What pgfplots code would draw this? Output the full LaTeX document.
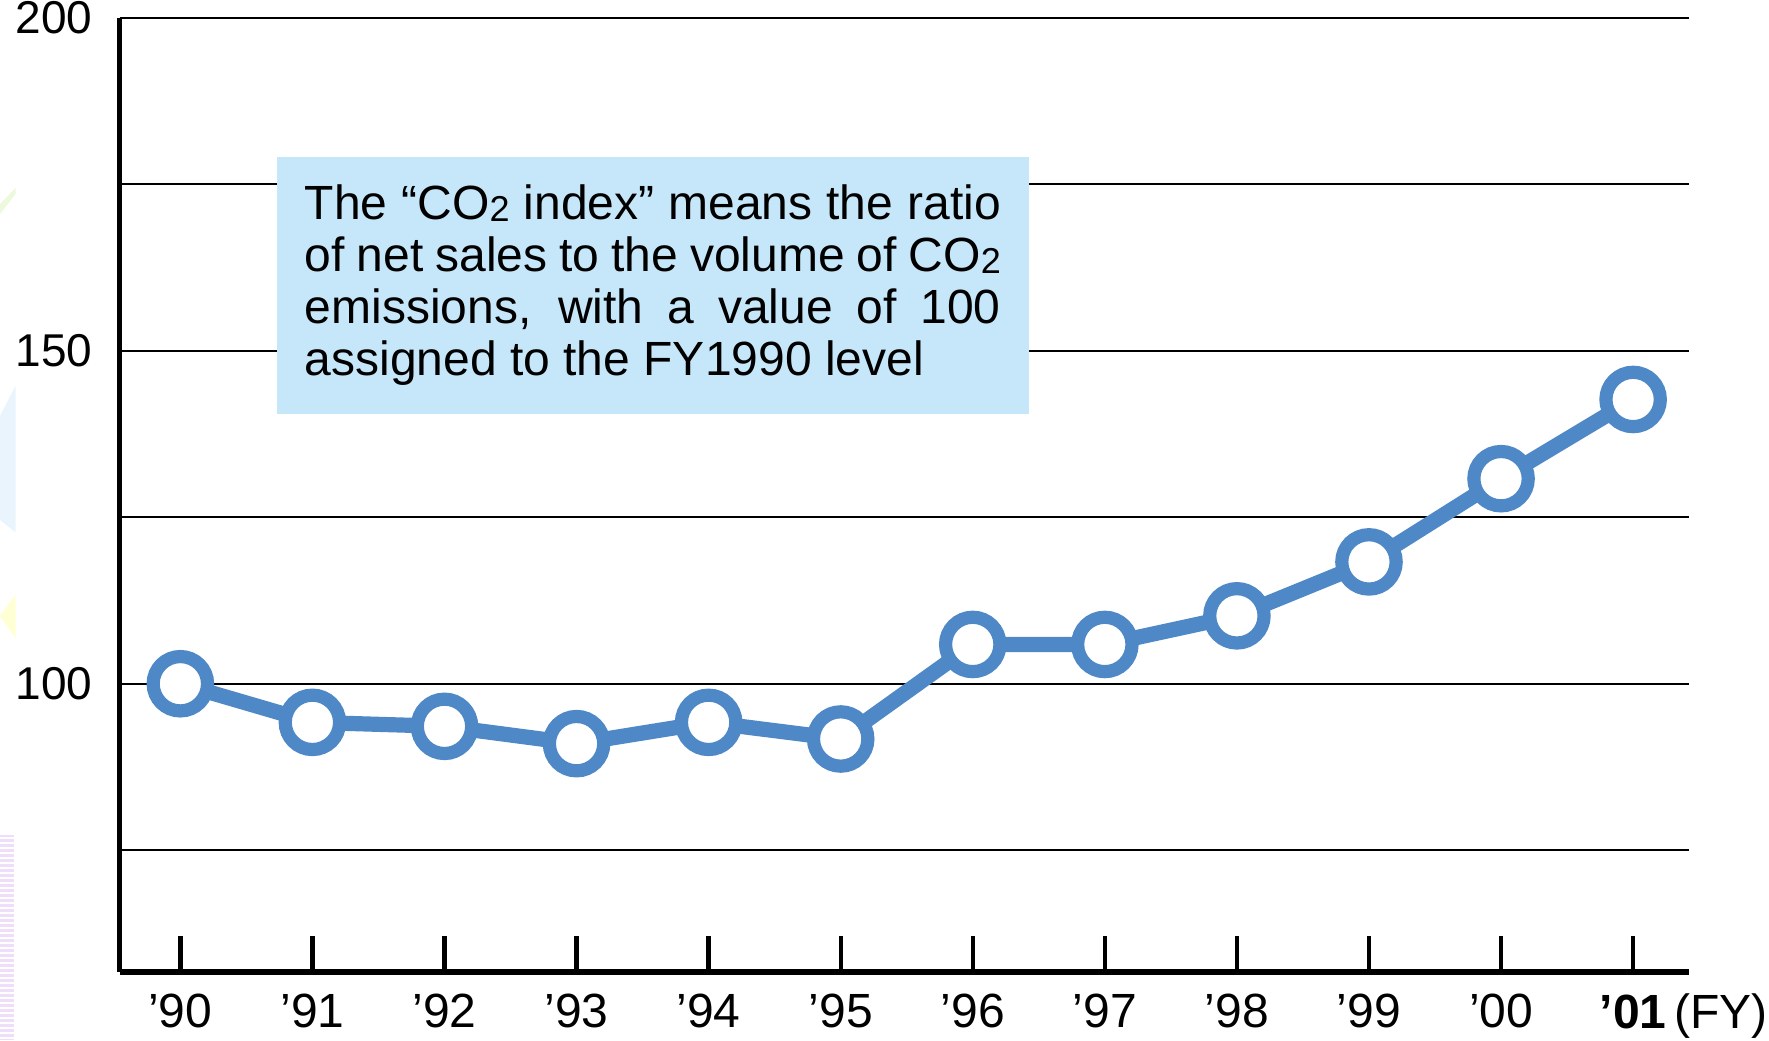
\documentclass[border=0pt]{standalone}
\usepackage{pgfplots}
\pgfplotsset{compat=1.18}
\usepackage{fontspec}
\setmainfont{Liberation Sans}

\definecolor{lineblue}{RGB}{79,136,198}
\definecolor{boxblue}{RGB}{198,231,249}
\definecolor{lav}{RGB}{238,222,250}
\definecolor{paleblue}{RGB}{234,244,253}
\definecolor{paleyellow}{RGB}{255,255,212}
\definecolor{palegreen}{RGB}{236,249,220}

\begin{document}
\begin{tikzpicture}
% faint page decorations at the left edge
\fill[palegreen] (-29.9pt,189.5pt) -- (-26pt,194.5pt) -- (-26pt,196pt) -- (-29.9pt,192pt) -- cycle;
\fill[paleblue] (-29.9pt,139pt) -- (-26pt,146.6pt) -- (-26pt,109.9pt) -- (-29.9pt,113pt) -- cycle;
\fill[paleyellow] (-29.9pt,89pt) -- (-26pt,94.4pt) -- (-26pt,83.4pt) -- cycle;
\fill[lav] (-29.9pt,-17pt) rectangle (-26.5pt,34.3pt);
\foreach \k in {0,...,40} \draw[white, line width=0.3pt] (-29.9pt,-16.5pt+\k*1.25pt) -- ++(3.4pt,0);

\begin{axis}[
    at={(0,0)}, anchor=south west,
    scale only axis,
    width=392.25pt, height=238.5pt,
    xmin=-0.46, xmax=11.42,
    ymin=56.7, ymax=200,
    axis x line=bottom, axis y line=left,
    x axis line style={-, line width=1.6pt},
    y axis line style={-, line width=1.2pt},
    xtick={0,...,11},
    xticklabels={’90,’91,’92,’93,’94,’95,’96,’97,’98,’99,’00,{\textbf{’01}\rlap{\,(FY)}}},
    ytick={75,100,125,150,175,200},
    yticklabels={,100,,150,,200},
    ymajorgrids,
    grid style={black, line width=0.5pt},
    tick align=inside,
    major tick length=9pt,
    x tick style={line width=1.1pt, black},
    y tick style={draw=none},
    x tick label style={font=\fontsize{12}{12}\selectfont, yshift=-2pt},
    y tick label style={font=\fontsize{11.5}{12}\selectfont, xshift=-3.3pt},
    clip=false,
]
\addplot[color=lineblue, line width=3.8pt, mark=*, mark size=6.8pt,
    mark options={fill=white, draw=lineblue, line width=3.3pt}]
    coordinates {(0,100) (1,94.2) (2,93.6) (3,91.0) (4,94.2) (5,91.7)
                 (6,105.9) (7,105.9) (8,110.2) (9,118.3) (10,130.8) (11,142.7)};

\node[fill=boxblue, anchor=north west, inner xsep=7pt, inner ysep=7pt,
      text width=174pt, minimum height=64pt, align=justify,
      font=\fontsize{12}{13}\selectfont]
  at (rel axis cs:0.0997,0.855)
  {The “CO\raisebox{-0.3pt}{\fontsize{9}{9}\selectfont 2} index” means the ratio\linebreak
   of net sales to the volume of CO\raisebox{-0.3pt}{\fontsize{9}{9}\selectfont 2}\linebreak
   emissions, with a value of 100\linebreak
   assigned to the FY1990 level};
\end{axis}
\pgfresetboundingbox
\path[use as bounding box] (-29.9pt,-17pt) rectangle (412.35pt,243pt);
\end{tikzpicture}
\end{document}
